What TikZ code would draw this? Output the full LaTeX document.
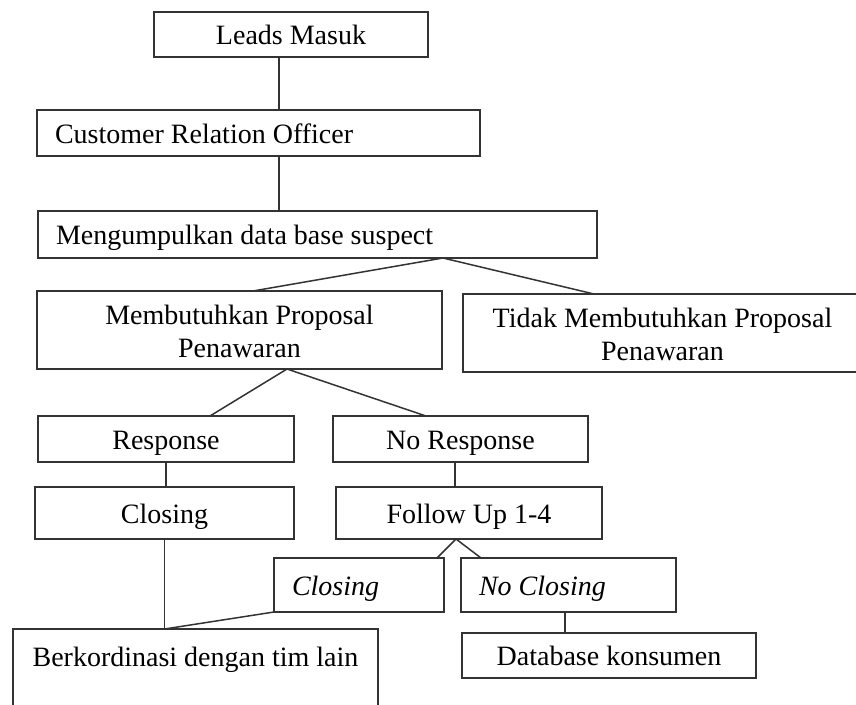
\documentclass[tikz,border=0pt]{standalone}
\usepackage{fontspec}
\setmainfont{Liberation Serif}
\usetikzlibrary{positioning}

\tikzset{
  box/.style={draw=black!80, line width=1.7pt, anchor=north west,
    inner xsep=18pt, inner ysep=0pt, outer sep=0pt,
    font=\fontsize{28}{33}\selectfont},
  tbox/.style={text height=21pt, text depth=1pt},
  link/.style={draw=black!80, line width=1.5pt}
}

\begin{document}
\begin{tikzpicture}[x=1pt,y=-1pt]
    \useasboundingbox (0,0) rectangle (856,704);
    \clip (0,0) rectangle (856,704);

    \node (leads) [box,tbox,minimum width=274pt,minimum height=45pt] at (154,12) {Leads Masuk};
    \node (cro) [box,tbox,text width=407pt,align=flush left,minimum height=46pt] at (37,110) {Customer Relation Officer};
    \node (meng) [box,tbox,text width=523pt,align=flush left,minimum height=47pt] at (38,211) {Mengumpulkan data base suspect};

    \node (mem) [box,minimum width=405pt,minimum height=78pt,align=flush center] at (37,291) {\strut Membutuhkan Proposal\\Penawaran};
    \node (tidak) [box,minimum width=399pt,minimum height=78pt,align=flush center] at (463,294) {\strut Tidak Membutuhkan Proposal\\Penawaran};

    \node (resp) [box,tbox,minimum width=256pt,minimum height=46pt] at (38,416) {Response};
    \node (noresp) [box,tbox,minimum width=255pt,minimum height=46pt] at (333,416) {No Response};
    \node (closing) [box,tbox,minimum width=259pt,minimum height=52pt] at (35,487) {Closing};
    \node (follow) [box,tbox,minimum width=266pt,minimum height=52pt] at (336,487) {Follow Up 1-4};

    \node (iclosing) [box,tbox,text width=134pt,align=flush left,minimum height=54pt] at (274,558) {\textit{Closing}};
    \node (noclosing) [box,tbox,text width=179pt,align=flush left,minimum height=54pt] at (461,558) {\textit{No Closing}};

    \node (berk) [box,inner ysep=18pt,text height=19pt,text depth=70pt,minimum width=365pt] at (13,629) {Berkordinasi dengan tim lain};
    \node (db) [box,tbox,minimum width=294pt,minimum height=45pt] at (462,633) {Database konsumen};

    \coordinate (trunk) at (279,0);

    \path [link] (leads.south -| trunk) edge (cro.north -| trunk);
    \path [link] (cro.south -| trunk) edge (meng.north -| trunk);

    \path [link] ([xshift=405pt]meng.south west) edge ([xshift=216pt]mem.north west)
                 ([xshift=405pt]meng.south west) edge ([xshift=131pt]tidak.north west);
    \path [link] ([xshift=250pt]mem.south west) edge ([xshift=172pt]resp.north west)
                 ([xshift=250pt]mem.south west) edge ([xshift=93pt]noresp.north west);

    \path [link] (resp.south) edge (resp.south |- closing.north);
    \path [link] ([xshift=122pt]noresp.south west) edge ([xshift=122pt]noresp.south west |- follow.north);

    \path [link] ([xshift=120pt]follow.south west) edge ([xshift=163pt]iclosing.north west)
                 ([xshift=120pt]follow.south west) edge ([xshift=20pt]noclosing.north west);

    \path [link] (closing.south) edge (closing.south |- berk.north);
    \path [link] (iclosing.south west) edge (closing.south |- berk.north);
    \path [link] ([xshift=104pt]noclosing.south west) edge ([xshift=104pt]noclosing.south west |- db.north);
\end{tikzpicture}
\end{document}
